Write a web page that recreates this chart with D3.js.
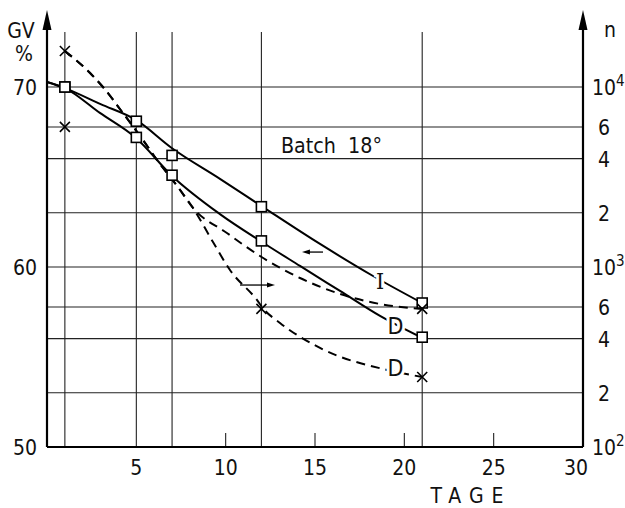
<!DOCTYPE html>
<html>
<head>
<meta charset="utf-8">
<script src="https://cdn.jsdelivr.net/npm/d3@7"></script>
<style>
  body { margin: 0; background: #fff; }
  svg { display: block; }
  text { font-family: "DejaVu Sans Condensed", "Liberation Sans Narrow", "Liberation Sans", sans-serif; font-stretch: condensed; fill: #111; }
</style>
</head>
<body>
<div class="chart"></div>
<script>
// GV % (left axis), measured points (squares)
var gvDays = [1, 5, 7, 12, 21];
var gvI = [70, 68.1, 66.2, 63.35, 58.0];
var gvD = [70, 67.2, 65.1, 61.45, 56.1];
// solid curves as drawn
var curveIDays = [0, 1, 3, 4.98, 7, 9.68, 12.09, 15.28, 18.25, 21];
var curveI = [70.28, 69.94, 69.05, 68.17, 66.6, 64.9, 63.33, 61.28, 59.5, 58.0];
var curveDDays = [0, 1, 2.96, 4.98, 7, 9.68, 12.03, 14.16, 16.4, 18.64, 21];
var curveD = [70.28, 69.94, 68.56, 67.17, 65.06, 62.94, 61.39, 60.06, 58.67, 57.28, 56.06];

// n (right axis, log), dashed curves with crosses
var nTrunkDays = [1, 2.41, 3.13, 4.25, 5.37, 6.16, 7.33, 8.17];
var nTrunk = [15850, 11960, 10000, 7170, 5080, 3930, 2780, 2130];
var nUpperDays = [10.07, 11.92, 14.16, 16.4, 18.64, 21];
var nUpper = [1545, 1151, 869, 708, 623, 585];
var nLowerDays = [9.29, 10.24, 11.75, 12.09, 13.04, 15.28, 19.03, 21];
var nLower = [1377, 962, 656, 590, 489, 355, 268, 245];
var crossDays = [1, 1, 12, 21, 21];
var crossN = [15850, 6000, 585, 585, 245];

// ticks
var xLabelDays = [5, 10, 15, 20, 25, 30];
var xGridDays = [1, 5, 7, 12, 21];
var xShortTicks = [10, 15, 20, 25];
var gvTicks = [50, 60, 70];
var nGrid = [200, 400, 600, 1000, 2000, 4000, 6000, 10000];
var nLabels = [
  {v: 10000, t: '10', sup: '4'}, {v: 6000, t: '6'}, {v: 4000, t: '4'}, {v: 2000, t: '2'},
  {v: 1000, t: '10', sup: '3'}, {v: 600, t: '6'}, {v: 400, t: '4'}, {v: 200, t: '2'},
  {v: 100, t: '10', sup: '2'}
];

var W = 625, H = 508;
var x = d3.scaleLinear().domain([0, 30]).range([47, 583]);
var yGV = d3.scaleLinear().domain([50, 70]).range([447, 87]);
var yN = d3.scaleLog().domain([100, 10000]).range([447, 87]);

var svg = d3.select('.chart').append('svg').attr('width', W).attr('height', H);

// GRID
var grid = svg.append('g').attr('stroke', '#222').attr('stroke-width', 1.1);
grid.selectAll('.hg').data(nGrid).enter().append('line')
  .attr('x1', x(0)).attr('x2', x(30))
  .attr('y1', function(d){ return yN(d); }).attr('y2', function(d){ return yN(d); });
grid.selectAll('.vg').data(xGridDays).enter().append('line')
  .attr('x1', function(d){ return x(d); }).attr('x2', function(d){ return x(d); })
  .attr('y1', 32).attr('y2', yGV(50));
grid.selectAll('.st').data(xShortTicks).enter().append('line')
  .attr('x1', function(d){ return x(d); }).attr('x2', function(d){ return x(d); })
  .attr('y1', yGV(50) - 14).attr('y2', yGV(50));

// AXES
var ax = svg.append('g').attr('stroke', '#000').attr('stroke-width', 2.2).attr('fill', 'none');
ax.append('line').attr('x1', x(0)).attr('x2', x(30)).attr('y1', yGV(50)).attr('y2', yGV(50));
ax.append('line').attr('x1', x(0)).attr('x2', x(0)).attr('y1', yGV(50)).attr('y2', 24);
ax.append('line').attr('x1', x(30)).attr('x2', x(30)).attr('y1', yGV(50)).attr('y2', 24);
[x(0), x(30)].forEach(function(px){
  svg.append('path').attr('d', 'M' + px + ',10 L' + (px - 4.5) + ',30 L' + (px + 4.5) + ',30 Z').attr('fill', '#000');
});

// CURVES
var lineGV = d3.line().curve(d3.curveMonotoneX)
  .x(function(d){ return x(d[0]); }).y(function(d){ return yGV(d[1]); });
var lineN = d3.line().curve(d3.curveMonotoneX)
  .x(function(d){ return x(d[0]); }).y(function(d){ return yN(d[1]); });

var curves = svg.append('g').attr('fill', 'none').attr('stroke', '#000').attr('stroke-width', 2);
curves.append('path').attr('d', lineGV(d3.zip(curveIDays, curveI)));
curves.append('path').attr('d', lineGV(d3.zip(curveDDays, curveD)));
curves.append('path').attr('stroke-dasharray', '9,6')
  .attr('d', lineN(d3.zip(nTrunkDays.concat(nUpperDays), nTrunk.concat(nUpper))));
curves.append('path').attr('stroke-dasharray', '9,6')
  .attr('d', lineN(d3.zip(nTrunkDays.concat(nLowerDays), nTrunk.concat(nLower))));

// MARKERS
var sq = svg.append('g').attr('fill', '#fff').attr('stroke', '#000').attr('stroke-width', 1.6);
sq.selectAll('.si').data(d3.zip(gvDays, gvI).concat(d3.zip(gvDays, gvD))).enter().append('rect')
  .attr('x', function(d){ return x(d[0]) - 5; }).attr('y', function(d){ return yGV(d[1]) - 5; })
  .attr('width', 10).attr('height', 10);
var cr = svg.append('g').attr('stroke', '#000').attr('stroke-width', 1.6);
d3.zip(crossDays, crossN).forEach(function(d){
  var cx = x(d[0]), cy = yN(d[1]);
  cr.append('path').attr('d', 'M' + (cx - 5) + ',' + (cy - 5) + 'L' + (cx + 5) + ',' + (cy + 5) +
    'M' + (cx + 5) + ',' + (cy - 5) + 'L' + (cx - 5) + ',' + (cy + 5));
});

// CURVE LABELS (with white gap on the line)
var labels = [
  {t: 'I', px: x(18.64), py: yGV(59.2), serif: true},
  {t: 'D', px: x(19.5), py: yGV(56.7)},
  {t: 'D', px: x(19.5), py: yN(275)}
];
svg.selectAll('.cl').data(labels).enter().append('text')
  .attr('x', function(d){ return d.px; }).attr('y', function(d){ return d.py + 8; })
  .attr('text-anchor', 'middle').attr('font-size', 23)
  .attr('stroke', '#fff').attr('stroke-width', 6).attr('paint-order', 'stroke')
  .style('font-family', function(d){ return d.serif ? '"DejaVu Serif Condensed", "Liberation Serif", serif' : null; })
  .text(function(d){ return d.t; });

// annotation arrows
var arrows = [
  {x1: x(15.45), x2: x(14.27), y: yGV(60.83)},
  {x1: x(10.8), x2: x(12.76), y: yN(794)}
];
arrows.forEach(function(a){
  var dir = a.x2 > a.x1 ? 1 : -1;
  svg.append('line').attr('x1', a.x1).attr('x2', a.x2 - dir * 6).attr('y1', a.y).attr('y2', a.y)
    .attr('stroke', '#000').attr('stroke-width', 1.3);
  svg.append('path').attr('fill', '#000')
    .attr('d', 'M' + a.x2 + ',' + a.y + 'L' + (a.x2 - dir * 8) + ',' + (a.y - 2.5) + 'L' + (a.x2 - dir * 8) + ',' + (a.y + 2.5) + 'Z');
});

// TEXT
svg.append('text').attr('x', 281).attr('y', 153).attr('font-size', 22)
  .attr('textLength', 101).attr('lengthAdjust', 'spacingAndGlyphs')
  .style('white-space', 'pre').text('Batch  18°');

svg.selectAll('.gvl').data(gvTicks).enter().append('text')
  .attr('x', 37).attr('y', function(d){ return yGV(d) + 8; })
  .attr('text-anchor', 'end').attr('font-size', 21).text(function(d){ return d; });
svg.append('text').attr('x', 21).attr('y', 38).attr('text-anchor', 'middle').attr('font-size', 21).text('GV');
svg.append('text').attr('x', 24).attr('y', 61).attr('text-anchor', 'middle').attr('font-size', 21).text('%');
svg.append('text').attr('x', 610).attr('y', 37).attr('text-anchor', 'middle').attr('font-size', 21).text('n');

var nl = svg.selectAll('.nl').data(nLabels).enter().append('text')
  .attr('x', function(d){ return d.sup ? 592 : 598; }).attr('y', function(d){ return yN(d.v) + 8; })
  .attr('font-size', 21);
nl.append('tspan').text(function(d){ return d.t; });
nl.filter(function(d){ return d.sup; }).append('tspan')
  .attr('dy', -9).attr('font-size', 15).text(function(d){ return d.sup; });

svg.selectAll('.xl').data(xLabelDays).enter().append('text')
  .attr('x', function(d){ return d === 30 ? x(d) - 7 : x(d); }).attr('y', 475)
  .attr('text-anchor', 'middle').attr('font-size', 21).text(function(d){ return d; });

svg.append('text').attr('x', 471).attr('y', 503).attr('text-anchor', 'middle')
  .attr('font-size', 21).attr('letter-spacing', 8).text('TAGE');
</script>
</body>
</html>
